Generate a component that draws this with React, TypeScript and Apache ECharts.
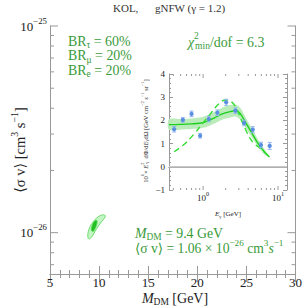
import React, { useEffect, useRef } from 'react';
import * as echarts from 'echarts';

const FONT = "'Liberation Serif', 'DejaVu Serif', serif";
const TEXT_GREEN = '#3a9a3a';
const AXIS_GRAY = '#999999';
const LABEL_DARK = '#222222';

// ---------- main panel data ----------
const massTickValues = [5, 10, 15, 20, 25, 30];
const sigmaMajorTicks = [1e-26, 1e-25];
const sigmaMajorExponents = ['−26', '−25'];
const sigmaMinorTicks = [7e-27, 8e-27, 9e-27, 2e-26, 3e-26, 4e-26, 5e-26, 6e-26, 7e-26, 8e-26, 9e-26];

const outerContourMass = [8.95, 8.85, 9.02, 9.35, 9.75, 10.19, 10.55, 10.62, 10.35, 9.95, 9.59, 9.29];
const outerContourSigma = [0.932e-26, 0.978e-26, 1.054e-26, 1.121e-26, 1.178e-26, 1.213e-26, 1.218e-26, 1.191e-26, 1.146e-26, 1.081e-26, 1.014e-26, 0.959e-26];
const innerContourMass = [9.22, 9.29, 9.52, 9.75, 9.79, 9.62, 9.39];
const innerContourSigma = [1.026e-26, 1.081e-26, 1.135e-26, 1.146e-26, 1.114e-26, 1.054e-26, 1.014e-26];

// ---------- inset data ----------
const energies = [0.41, 0.536, 0.70, 0.912, 1.19, 1.55, 2.03, 2.70, 3.52, 4.6, 5.93, 7.75];
const fluxValues = [1.62, 2.02, 2.28, 1.34, 2.06, 2.33, 2.78, 2.42, 1.89, 1.60, 0.94, 0.90];
const fluxErrors = [0.12, 0.1, 0.12, 0.1, 0.12, 0.12, 0.13, 0.12, 0.12, 0.13, 0.12, 0.15];

const bestFitEnergy = [0.35, 0.5, 0.7, 0.9, 1.1, 1.4, 1.8, 2.3, 2.75, 3.2, 3.7, 4.4, 5.2, 6.2, 7.0, 7.7];
const bestFitFlux = [1.82, 1.83, 1.85, 1.88, 1.95, 2.1, 2.28, 2.38, 2.42, 2.25, 1.9, 1.5, 1.1, 0.75, 0.55, 0.42];
const bandEnergy = [0.35, 0.5, 0.7, 0.9, 1.1, 1.4, 1.8, 2.3, 2.75, 3.2, 3.7, 4.4, 5.2, 6.2, 7.0];
const bandUpper = [2.05, 2.06, 2.08, 2.12, 2.2, 2.36, 2.55, 2.66, 2.68, 2.5, 2.13, 1.7, 1.27, 0.88, 0.64];
const bandLower = [1.6, 1.61, 1.63, 1.66, 1.72, 1.86, 2.03, 2.12, 2.16, 2.0, 1.68, 1.3, 0.95, 0.63, 0.47];

const altFitEnergy = [0.41, 0.55, 0.75, 1.0, 1.3, 1.6, 2.0, 2.4, 2.75, 3.2, 3.7, 4.2, 4.8, 5.5, 6.3, 7.0, 7.7];
const altFitFlux = [0.65, 0.95, 1.4, 1.9, 2.35, 2.7, 2.88, 2.8, 2.55, 2.05, 1.6, 1.25, 1.0, 0.85, 0.68, 0.55, 0.42];

const energyMajorTicks = [1, 10];
const energyMajorExponents = ['0', '1'];
const energyMinorTicks = [0.4, 0.5, 0.6, 0.7, 0.8, 0.9, 2, 3, 4, 5, 6, 7, 8, 9];

const E_MIN = 0.35;
const E_MAX = 13.2;
const SIGMA_MIN = Math.pow(10, -26.2);
const SIGMA_MAX = 1e-25;

function makeRich(fs: number, fill: string) {
  const L = Math.round(fs * 1.3);
  const sfs = Math.round(fs * 0.68 * 10) / 10;
  const raise = fs * 0.4;
  const drop = fs * 0.3;
  const base = { fontFamily: FONT, fill, align: 'left', lineHeight: L };
  const sup = { ...base, fontSize: sfs, verticalAlign: 'top', height: L - 2 * raise };
  const sub = { ...base, fontSize: sfs, verticalAlign: 'bottom', height: L - 2 * drop };
  return {
    n: { ...base, fontSize: fs },
    it: { ...base, fontSize: fs, fontStyle: 'italic' },
    sup,
    supw: { ...sup, width: 1 },
    sub,
  };
}

function textEl(x: number, y: number, text: string, fs: number, fill: string, align: string, rotation = 0) {
  return {
    type: 'text',
    x,
    y,
    rotation,
    silent: true,
    style: {
      text,
      rich: makeRich(fs, fill),
      align,
      verticalAlign: 'middle',
      textAlign: align,
      textVerticalAlign: 'middle',
      fill,
      fontFamily: FONT,
      fontSize: fs,
    },
  };
}

export default function App() {
  const ref = useRef<HTMLDivElement>(null);

  useEffect(() => {
    if (!ref.current) return;
    const chart = echarts.init(ref.current, undefined, { renderer: 'svg' });

    const mainXCommon = {
      type: 'value',
      gridIndex: 0,
      min: massTickValues[0],
      max: massTickValues[massTickValues.length - 1],
      interval: 5,
      axisLine: { show: true, lineStyle: { color: AXIS_GRAY, width: 1 } },
      axisTick: { show: true, inside: true, length: 8, lineStyle: { color: AXIS_GRAY } },
      minorTick: { show: true, splitNumber: 5, length: 4, lineStyle: { color: AXIS_GRAY } },
      splitLine: { show: false },
      minorSplitLine: { show: false },
    };
    const mainYCommon = {
      type: 'log',
      gridIndex: 0,
      min: SIGMA_MIN,
      max: SIGMA_MAX,
      axisLine: { show: true, lineStyle: { color: AXIS_GRAY, width: 1 } },
      axisTick: { show: false },
      axisLabel: { show: false },
      splitLine: { show: false },
    };
    const insetXCommon = {
      type: 'log',
      gridIndex: 1,
      min: E_MIN,
      max: E_MAX,
      axisLine: { show: true, lineStyle: { color: AXIS_GRAY, width: 1 } },
      axisTick: { show: false },
      axisLabel: { show: false },
      splitLine: { show: false },
    };
    const insetYCommon = {
      type: 'value',
      gridIndex: 1,
      min: -1,
      max: 4,
      interval: 1,
      axisLine: { show: true, lineStyle: { color: AXIS_GRAY, width: 1 } },
      axisTick: { show: true, inside: true, length: 4, lineStyle: { color: AXIS_GRAY } },
      minorTick: { show: true, splitNumber: 5, length: 2, lineStyle: { color: AXIS_GRAY } },
      splitLine: { show: false },
      minorSplitLine: { show: false },
    };

    const sigmaTickData = [
      ...sigmaMajorTicks.map((v, i) => [5, v, 1, i]),
      ...sigmaMinorTicks.map((v) => [5, v, 0, -1]),
    ];
    const energyTickData = [
      ...energyMajorTicks.map((v, i) => [v, -1, 1, i]),
      ...energyMinorTicks.map((v) => [v, -1, 0, -1]),
    ];

    const option: any = {
      animation: false,
      backgroundColor: '#ffffff',
      grid: [
        { left: 50, top: 26, width: 249, height: 248 },
        { left: 169, top: 74, width: 118, height: 116 },
      ],
      xAxis: [
        { ...mainXCommon, position: 'bottom', axisLabel: { show: true, fontFamily: FONT, fontSize: 13, color: LABEL_DARK, margin: 2 } },
        { ...mainXCommon, position: 'top', axisLabel: { show: false } },
        { ...insetXCommon, position: 'bottom' },
        { ...insetXCommon, position: 'top' },
      ],
      yAxis: [
        { ...mainYCommon, position: 'left' },
        { ...mainYCommon, position: 'right' },
        {
          ...insetYCommon,
          position: 'left',
          axisLabel: {
            show: true,
            fontFamily: FONT,
            fontSize: 9,
            color: LABEL_DARK,
            margin: 4,
            formatter: (v: number) => String(v).replace('-', '−'),
          },
        },
        { ...insetYCommon, position: 'right', axisLabel: { show: false } },
      ],
      series: [
        {
          type: 'custom',
          xAxisIndex: 0,
          yAxisIndex: 0,
          silent: true,
          data: [[outerContourMass[0], outerContourSigma[0]]],
          renderItem: (_p: any, api: any) => ({
            type: 'polygon',
            shape: { points: outerContourMass.map((m, i) => api.coord([m, outerContourSigma[i]])), smooth: 0.4 },
            style: { fill: '#c4f5c4', stroke: '#6fdc6f', lineWidth: 1 },
          }),
          z: 2,
        },
        {
          type: 'custom',
          xAxisIndex: 0,
          yAxisIndex: 0,
          silent: true,
          data: [[innerContourMass[0], innerContourSigma[0]]],
          renderItem: (_p: any, api: any) => ({
            type: 'polygon',
            shape: { points: innerContourMass.map((m, i) => api.coord([m, innerContourSigma[i]])), smooth: 0.4 },
            style: { fill: '#22c022', stroke: '#4fd84f', lineWidth: 0.8 },
          }),
          z: 3,
        },
        {
          type: 'custom',
          xAxisIndex: 0,
          yAxisIndex: 0,
          silent: true,
          clip: false,
          data: sigmaTickData,
          renderItem: (_p: any, api: any) => {
            const v = api.value(1);
            const major = api.value(2) === 1;
            const idx = api.value(3);
            const len = major ? 8 : 4;
            const pl = api.coord([5, v]);
            const pr = api.coord([30, v]);
            const children: any[] = [
              { type: 'line', shape: { x1: pl[0], y1: pl[1], x2: pl[0] + len, y2: pl[1] }, style: { stroke: AXIS_GRAY, lineWidth: 1 } },
              { type: 'line', shape: { x1: pr[0], y1: pr[1], x2: pr[0] - len, y2: pr[1] }, style: { stroke: AXIS_GRAY, lineWidth: 1 } },
            ];
            if (major) {
              children.push(textEl(pl[0] - 3, pl[1], `{n|10}{sup|${sigmaMajorExponents[idx]}}`, 13, LABEL_DARK, 'right'));
            }
            return { type: 'group', children };
          },
          z: 5,
        },
        {
          type: 'line',
          xAxisIndex: 2,
          yAxisIndex: 2,
          data: [[E_MIN, 0], [E_MAX, 0]],
          symbol: 'none',
          silent: true,
          lineStyle: { color: '#c8c8c8', width: 1.6 },
          z: 2,
        },
        {
          type: 'custom',
          xAxisIndex: 2,
          yAxisIndex: 2,
          silent: true,
          data: [[bandEnergy[0], bandUpper[0]]],
          renderItem: (_p: any, api: any) => {
            const up = bandEnergy.map((e, i) => api.coord([e, bandUpper[i]]));
            const lo = bandEnergy.map((e, i) => api.coord([e, bandLower[i]])).reverse();
            return {
              type: 'polygon',
              shape: { points: up.concat(lo), smooth: 0.3 },
              style: { fill: '#b5ebb5', opacity: 0.95 },
            };
          },
          z: 3,
        },
        {
          type: 'line',
          xAxisIndex: 2,
          yAxisIndex: 2,
          data: bestFitEnergy.map((e, i) => [e, bestFitFlux[i]]),
          symbol: 'none',
          smooth: 0.4,
          silent: true,
          lineStyle: { color: '#1fcf1f', width: 1.4 },
          z: 4,
        },
        {
          type: 'line',
          xAxisIndex: 2,
          yAxisIndex: 2,
          data: altFitEnergy.map((e, i) => [e, altFitFlux[i]]),
          symbol: 'none',
          smooth: 0.4,
          silent: true,
          lineStyle: { color: '#33dd33', width: 1.4, type: [6, 4] },
          z: 4,
        },
        {
          type: 'custom',
          xAxisIndex: 2,
          yAxisIndex: 2,
          silent: true,
          data: energies.map((e, i) => [e, fluxValues[i], fluxErrors[i]]),
          renderItem: (_p: any, api: any) => {
            const x = api.value(0);
            const y = api.value(1);
            const err = api.value(2);
            const c = api.coord([x, y]);
            const t = api.coord([x, y + err]);
            const b = api.coord([x, y - err]);
            const cap = 2;
            const st = { stroke: '#92b6ee', lineWidth: 1 };
            return {
              type: 'group',
              children: [
                { type: 'line', shape: { x1: c[0], y1: t[1], x2: c[0], y2: b[1] }, style: st },
                { type: 'line', shape: { x1: c[0] - cap, y1: t[1], x2: c[0] + cap, y2: t[1] }, style: st },
                { type: 'line', shape: { x1: c[0] - cap, y1: b[1], x2: c[0] + cap, y2: b[1] }, style: st },
                { type: 'circle', shape: { cx: c[0], cy: c[1], r: 2.1 }, style: { fill: '#5a8ee0' } },
              ],
            };
          },
          z: 6,
        },
        {
          type: 'custom',
          xAxisIndex: 2,
          yAxisIndex: 2,
          silent: true,
          clip: false,
          data: energyTickData,
          renderItem: (_p: any, api: any) => {
            const v = api.value(0);
            const major = api.value(2) === 1;
            const idx = api.value(3);
            const len = major ? 4 : 2;
            const pb = api.coord([v, -1]);
            const pt = api.coord([v, 4]);
            const children: any[] = [
              { type: 'line', shape: { x1: pb[0], y1: pb[1], x2: pb[0], y2: pb[1] - len }, style: { stroke: AXIS_GRAY, lineWidth: 1 } },
              { type: 'line', shape: { x1: pt[0], y1: pt[1], x2: pt[0], y2: pt[1] + len }, style: { stroke: AXIS_GRAY, lineWidth: 1 } },
            ];
            if (major) {
              children.push(textEl(pb[0], pb[1] + 8, `{n|10}{sup|${energyMajorExponents[idx]}}`, 9, LABEL_DARK, 'center'));
            }
            return { type: 'group', children };
          },
          z: 5,
        },
      ],
      graphic: [
        textEl(113, 8, '{n|KOL,}', 11, '#333333', 'left'),
        textEl(155, 8, '{n|gNFW (γ = 1.2)}', 11, '#333333', 'left'),
        textEl(175, 298, '{it|M}{sub|DM}{n| [GeV]}', 14, LABEL_DARK, 'center'),
        textEl(20, 150, '{n|⟨σ v⟩ [cm}{sup|3}{n| s}{sup|−1}{n|]}', 14.5, LABEL_DARK, 'center', Math.PI / 2),
        textEl(68, 41, '{n|BR}{sub|τ}{n| = 60%}', 13.9, TEXT_GREEN, 'left'),
        textEl(68, 55.5, '{n|BR}{sub|μ}{n| = 20%}', 13.9, TEXT_GREEN, 'left'),
        textEl(68, 70, '{n|BR}{sub|e}{n| = 20%}', 13.9, TEXT_GREEN, 'left'),
        textEl(188, 42, '{it|χ}{supw|2}{sub|min}{n|/dof = 6.3}', 13.9, TEXT_GREEN, 'left'),
        textEl(135, 233, '{it|M}{sub|DM}{n| = 9.4 GeV}', 13.8, TEXT_GREEN, 'left'),
        textEl(135, 248.5, '{n|⟨σ v⟩ = 1.06 × 10}{sup|−26}{n| cm}{sup|3}{it|s}{sup|−1}', 13.6, TEXT_GREEN, 'left'),
        textEl(228, 214, '{it|E}{sub|γ}{n| [GeV]}', 7, LABEL_DARK, 'center'),
        textEl(
          145,
          131,
          '{n|10}{sup|6}{n|× }{it|E}{supw|2}{sub|γ}{n|  dΦ/d}{it|E}{sub|γ}{n|dΩ [GeV cm}{sup|−2}{n| }{it|s}{sup|−1}{n| sr}{sup|−1}{n|]}',
          6.5,
          LABEL_DARK,
          'center',
          Math.PI / 2
        ),
      ],
    };

    chart.setOption(option);
    return () => chart.dispose();
  }, []);

  return <div ref={ref} style={{ position: 'fixed', left: 0, top: 0, width: 305, height: 308 }} />;
}
